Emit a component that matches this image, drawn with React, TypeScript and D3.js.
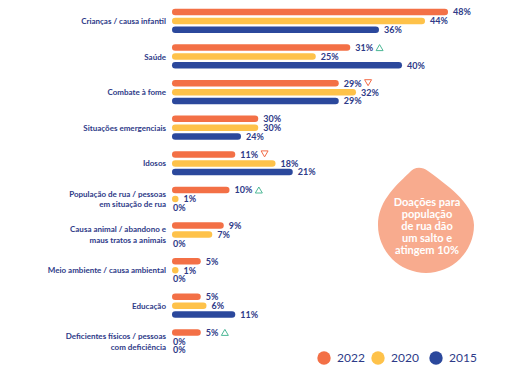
import React, { useEffect, useRef } from 'react';
import * as d3 from 'd3';

const categories = [
  'Crianças / causa infantil',
  'Saúde',
  'Combate à fome',
  'Situações emergenciais',
  'Idosos',
  'População de rua / pessoas|em situação de rua',
  'Causa animal / abandono e|maus tratos a animais',
  'Meio ambiente / causa ambiental',
  'Educação',
  'Deficientes físicos / pessoas|com deficiência',
];
const years = ['2022', '2020', '2015'];
const values2022 = [48, 31, 29, 30, 11, 10, 9, 5, 5, 5];
const values2020 = [44, 25, 32, 30, 18, 1, 7, 1, 6, 0];
const values2015 = [36, 40, 29, 24, 21, 0, 0, 0, 11, 0];
// change marker shown after the 2022 value
const trend2022 = ['', 'up', 'down', '', 'down', 'up', '', '', '', 'up'];
// the source draws the "Situações emergenciais" bars at half length
const barLengthFactor = [1, 1, 1, 0.5, 1, 1, 1, 1, 1, 1];
const calloutLines = ['Doações para', 'população', 'de rua dão', 'um salto e', 'atingem 10%'];

const colors = ['#f37046', '#fec24a', '#2b489c'];
const navy = '#2e3a88';

function App() {
  const svgRef = useRef<SVGSVGElement>(null);

  useEffect(() => {
    const svg = d3.select(svgRef.current);
    svg.selectAll('*').remove();

    const series = [values2022, values2020, values2015];
    const x = d3.scaleLinear().domain([0, 48]).range([172, 448]);
    const y = d3.scaleBand().domain(categories).range([3.2, 359.2]);
    const offsets = [-9, 0, 8.7];
    const barH = 6.5;

    const g = svg.append('g');

    categories.forEach((cat, i) => {
      const cy = y(cat)! + y.bandwidth() / 2;
      const lines = cat.split('|');
      const lab = g.append('text')
        .attr('x', 166)
        .attr('text-anchor', 'end')
        .attr('font-family', 'Lato, sans-serif')
        .attr('font-weight', 700)
        .attr('font-size', 8)
        .attr('fill', navy);
      lines.forEach((ln, k) => {
        lab.append('tspan')
          .attr('x', 166)
          .attr('y', cy + 3 + (k - (lines.length - 1) / 2) * 10.5)
          .text(ln);
      });

      series.forEach((vals, s) => {
        const v = vals[i];
        const by = cy + offsets[s];
        let w = (x(v * barLengthFactor[i]) - x(0));
        if (v > 0) w = Math.max(w, barH);
        else w = 0;
        if (w > 0) {
          g.append('rect')
            .attr('x', x(0))
            .attr('y', by - barH / 2)
            .attr('width', w)
            .attr('height', barH)
            .attr('rx', barH / 2)
            .attr('fill', colors[s]);
        }
        const tx = x(0) + (w > 0 ? w + 5 : 1);
        const t = g.append('text')
          .attr('x', tx)
          .attr('y', by + 3.3)
          .attr('font-family', 'Lato, sans-serif')
          .attr('font-weight', 700)
          .attr('font-size', 9)
          .attr('fill', navy)
          .text(v + '%');

        if (s === 0 && trend2022[i]) {
          const tw = (t.node() as SVGTextElement).getComputedTextLength();
          const x0 = tx + tw + 3;
          const up = trend2022[i] === 'up';
          const pts = up
            ? [[x0, by + 3], [x0 + 7, by + 3], [x0 + 3.5, by - 3]]
            : [[x0, by - 3.5], [x0 + 7, by - 3.5], [x0 + 3.5, by + 2.5]];
          g.append('polygon')
            .attr('points', pts.map((p) => p.join(',')).join(' '))
            .attr('fill', 'none')
            .attr('stroke', up ? '#4db896' : '#f26b47')
            .attr('stroke-width', 1)
            .attr('stroke-linejoin', 'round');
        }
      });
    });

    // callout drop
    const cx = 426, ccy = 225, r = 48;
    g.append('path')
      .attr('d',
        `M ${cx - r},${ccy} A ${r} ${r} 0 0 0 ${cx + r},${ccy}` +
        ` C ${cx + r},${ccy - 22} ${cx + 18},${ccy - 42} ${cx + 2},${ccy - 54}` +
        ` C ${cx - 5},${ccy - 59} ${cx - 12},${ccy - 58} ${cx - 17},${ccy - 52}` +
        ` C ${cx - 33},${ccy - 37} ${cx - r},${ccy - 22} ${cx - r},${ccy} Z`)
      .attr('fill', '#f8ab8e');
    const ct = g.append('text')
      .attr('text-anchor', 'middle')
      .attr('font-family', 'Lato, sans-serif')
      .attr('font-weight', 700)
      .attr('font-size', 11)
      .attr('fill', '#ffffff');
    calloutLines.forEach((ln, k) => {
      ct.append('tspan').attr('x', 427).attr('y', 205.5 + k * 12).text(ln);
    });

    // legend
    const lx = [324, 378, 436];
    years.forEach((yr, s) => {
      g.append('circle').attr('cx', lx[s]).attr('cy', 358).attr('r', 6.7).attr('fill', colors[s]);
      g.append('text')
        .attr('x', lx[s] + 13)
        .attr('y', 362.2)
        .attr('font-family', 'Lato, sans-serif')
        .attr('font-size', 12)
        .attr('fill', navy)
        .text(yr);
    });
  }, []);

  return (
    <div style={{ position: 'absolute', left: 0, top: 0, background: '#fff' }}>
      <svg ref={svgRef} width={511} height={373}></svg>
    </div>
  );
}

export default App;
